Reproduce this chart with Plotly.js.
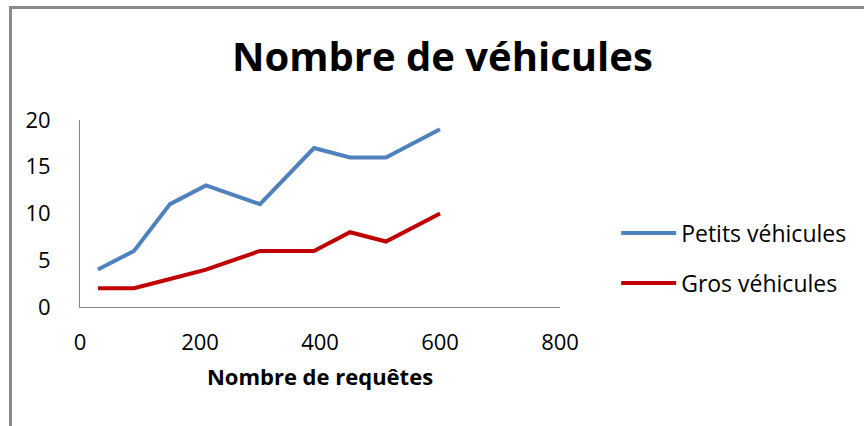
<!DOCTYPE html>
<html>
<head>
<meta charset="utf-8">
<script src="https://cdn.plot.ly/plotly-3.0.1.min.js"></script>
<style>
html,body{margin:0;padding:0;background:#fff;}
#chart{width:864px;height:426px;position:relative;}
#frame{position:absolute;left:9px;top:6px;right:0;bottom:0;border-left:3px solid #8a8a8a;border-top:3px solid #8a8a8a;pointer-events:none;}
</style>
</head>
<body>
<div style="position:relative;width:864px;height:426px;">
<div id="chart"></div>
<div id="frame"></div>
</div>
<script>
var requetes = [30, 90, 150, 210, 300, 390, 450, 510, 600];
var petits = [4, 6, 11, 13, 11, 17, 16, 16, 19];
var gros = [2, 2, 3, 4, 6, 6, 8, 7, 10];
var xTicks = [0, 200, 400, 600, 800];
var yTicks = [0, 5, 10, 15, 20];

var font = "'Open Sans', sans-serif";
var data = [
  {x: requetes, y: petits, type: 'scatter', mode: 'lines', name: 'Petits véhicules',
   line: {color: '#4F81BD', width: 4}, legend: 'legend'},
  {x: requetes, y: gros, type: 'scatter', mode: 'lines', name: 'Gros véhicules',
   line: {color: '#C00000', width: 4}, legend: 'legend2'}
];
var legendBase = {font: {family: font, size: 23, color: '#000'}, bgcolor: 'rgba(0,0,0,0)',
  xanchor: 'left', yanchor: 'middle', itemwidth: 55};
var layout = {
  width: 864, height: 426,
  margin: {l: 80, r: 304, t: 120, b: 119},
  paper_bgcolor: '#fff', plot_bgcolor: '#fff',
  title: {text: 'Nombre de véhicules', font: {family: font, size: 40, color: '#000', weight: 'bold'},
    xref: 'container', yref: 'container', x: 0.512, y: 1 - 57/426, xanchor: 'center', yanchor: 'middle'},
  xaxis: {range: [0, 800], tickvals: xTicks, showgrid: false, zeroline: false,
    showline: true, linecolor: '#868686', linewidth: 1, ticks: '',
    tickfont: {family: font, size: 22, color: '#000'}, ticklabelstandoff: 16,
    title: {text: 'Nombre de requêtes', font: {family: font, size: 22, color: '#000', weight: 'bold'}, standoff: 14}},
  yaxis: {range: [0, 20], tickvals: yTicks, showgrid: false, zeroline: false,
    showline: true, linecolor: '#868686', linewidth: 1, ticks: '',
    tickfont: {family: font, size: 22, color: '#000'}, ticklabelstandoff: 24},
  legend: Object.assign({x: 1.117, y: (426 - 233 - 119) / 187}, legendBase),
  legend2: Object.assign({x: 1.117, y: (426 - 283 - 119) / 187}, legendBase),
  showlegend: true
};
Plotly.newPlot('chart', data, layout, {displayModeBar: false, staticPlot: true});
</script>
</body>
</html>
